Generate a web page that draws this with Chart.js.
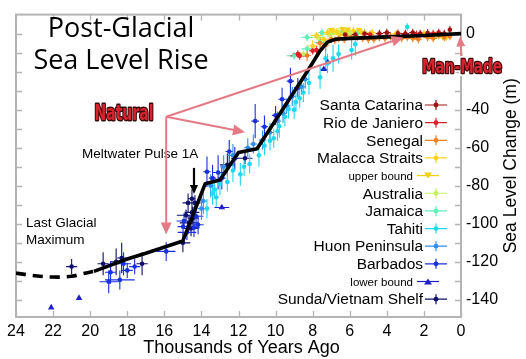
<!DOCTYPE html>
<html>
<head>
<meta charset="utf-8">
<script src="https://cdn.jsdelivr.net/npm/chart.js@4.4.1/dist/chart.umd.min.js"></script>
<style>
  html, body { margin: 0; padding: 0; background: #fff; }
  #wrap { width: 526px; height: 359px; }
</style>
</head>
<body>
<div id="wrap"><canvas id="c"></canvas></div>
<script>
// ---------------- data (kyr ago, metres, x error, y error) ----------------
const santaCatarina = [[5.7,-0.5,0.2,2],[4.4,0,0.2,2],[2.6,0.5,0.2,2],[0.6,2,0.1,2],[6.25,-0.5,0.2,2],[3.4,0.2,0.2,2],
                       [5.2,0,0.2,2],[4.0,0.5,0.2,2],[3.0,0,0.2,2],[2.2,0,0.2,2],[1.8,0.3,0.2,2],[1.2,0.5,0.2,2],[0.9,0,0.1,2]];
const rioDeJaniero = [[8.7,-11.7,0.5,2],[8.0,-9,0.2,2],[4.9,-0.5,0.2,2],[3.0,-0.5,0.2,2],[1.5,0,0.2,2],
                      [7.8,-8.6,0.3,2],[8.8,-10.7,0.3,2],[2.4,-0.5,0.2,2]];
const senegal = [[8.3,-11.5,0.2,3],[7.3,-6,0.2,3],[6.8,-3.5,0.2,2],[5.6,-2,0.2,2],[5.0,-3,0.2,2],[4.4,-2,0.2,2],
                 [3.8,-1.5,0.2,2],[3.2,-2.5,0.2,2],[2.6,-2.5,0.2,2],[1.8,-2,0.2,2],[1.2,-1,0.2,2],[6.2,-1,0.2,2],
                 [7.6,-5,0.2,3],[7.0,-3,0.2,2],[6.6,-2.5,0.2,2],[6.3,-3,0.2,2],[5.9,-2,0.2,2],[5.3,-2.5,0.2,2],
                 [4.7,-3,0.2,2],[4.1,-2.5,0.2,2],[3.5,-3,0.2,2],[2.9,-2,0.2,2],[2.3,-3,0.2,2],[1.5,-2.5,0.2,2],
                 [0.9,-2,0.2,2],[0.6,-1.5,0.1,2]];
const malacca = [[8.0,-6.5,0.3,3],[6.5,-0.5,0.4,2],[6.25,0.5,0.3,2],[5.8,1.5,0.2,2],[1.0,-1.5,0.2,2],[3.5,0,0.2,2],[7.4,-3,0.2,2],
                 [7.8,-1,0.3,2],[7.2,0.5,0.3,2],[6.9,1.5,0.3,2],[6.7,1,0.2,2],[5.4,1,0.2,2],[4.8,0.5,0.2,2],
                 [2.0,0,0.2,2],[1.3,-0.5,0.2,2],[0.8,-2,0.2,2]];
const upperBound = [[6.4,2.5,0,0],[6.1,2.2,0,0],[5.5,2,0,0],[7.0,2,0,0]];
const australia = [[8.5,-10.7,0.2,2],[7.1,-0.5,0.3,2],[6.6,1,0.3,2],[5.2,0.5,0.3,2],[7.7,-2,0.3,2],[6.9,0.5,0.2,2],[6.0,0.2,0.2,2]];
const jamaica = [[9.0,-11.6,0.4,2],[7.6,-4.6,0.3,2],[6.1,1,0.2,2],[8.3,-8,0.3,2],[8.3,-2,0.3,2],[7.5,0.5,0.2,2],[6.4,1,0.2,2],[5.6,0,0.2,2]];
const tahiti = [[13.7,-92,0.1,5],[13.4,-84,0.1,6],[13.3,-82,0.1,5],[13.0,-79,0.1,6],[12.6,-78,0.1,5],[11.9,-74,0.1,6],
                [11.4,-68.5,0.1,5],[10.9,-64,0.1,6],[10.6,-59,0.1,5],[10.3,-56.3,0.1,5],[9.9,-51.3,0.1,5],[9.8,-48.7,0.1,6],
                [9.5,-43.7,0.1,5],[9.3,-39.6,0.1,5],[8.7,-34,0.1,5],[8.5,-31,0.1,5],[7.6,-23,0.1,6],[7.2,-15.7,0.1,5],
                [6.9,-13,0.1,7],[5.7,-5.6,0.1,6],[2.9,3.5,0.1,2],[6.6,-10.7,0.1,5],[5.9,-8.6,0.1,5],[7.3,-13,0.1,6],
                [12.3,-72,0.1,6],[11.7,-70,0.1,5],[10.1,-55,0.1,5],[9.0,-40,0.1,5],[8.9,-36,0.1,5],[8.2,-26,0.1,6],[13.2,-86,0.1,5]];
const huon = [[13.5,-80,0.2,6],[12.3,-64,0.3,6],[11.5,-60,0.2,5],[10.3,-52,0.2,5],[9.9,-46,0.2,5],[9.6,-42,0.2,5],
              [9.4,-38,0.2,4],[8.6,-28,0.2,4],[14.0,-92,0.2,6],[13.9,-88,0.2,7],
              [12.8,-70,0.2,6],[11.2,-58,0.2,5],[10.7,-56,0.2,5],[9.1,-33,0.2,5],[8.4,-24,0.2,5]];
const barbados = [[18.9,-125.5,0.3,6],[19.0,-130.5,0.5,6],[18.4,-129.5,0.8,5],[18.2,-121,0.4,6],[18.0,-124.5,0.3,4],
                  [17.6,-122.5,0.3,4],[15.9,-114.5,0.5,5],[14.94,-98.5,0.4,4],[14.18,-100.5,0.3,5],[14.78,-104.5,0.5,4],
                  [14.40,-102,0.3,5],[14.99,-101.5,0.3,4],[14.29,-96,0.4,6],[13.7,-72.6,0.2,8],[13.1,-73,0.3,9],
                  [12.2,-65.6,0.2,6],[11.1,-46,0.2,9],[9.65,-34.5,0.2,6],[9.2,-25,0.2,7],[8.8,-28.4,0.2,5],[12.9,-76,0.2,6],
                  [10.6,-49,0.2,6],[10.0,-43,0.2,5],[12.5,-62,0.2,6],[13.4,-76,0.2,7]];
const lowerBound = [[22.1,-144,0,0],[20.6,-139,0,0],[12.9,-91.4,0.4,0],[7.4,-18.7,0.2,0],[7.2,-15,0,0]];
const sunda = [[21.0,-122.5,0.3,4],[19.3,-121,0.3,6],[18.6,-120,0.3,7],[18.3,-118,0.25,8],[17.2,-121,0.3,6],
               [15.0,-110,0.4,5],[14.72,-89,0.3,5],[14.51,-94,0.4,6],[14.83,-95.5,0.5,3],[14.67,-99.5,0.5,4],
               [14.45,-97,0.3,6],[14.56,-102.5,0.4,4],[14.35,-89,0.3,4],[14.51,-86.8,0.2,5],[12.6,-69,0.4,6],[11.65,-65.5,0.4,3]];

// fitted curve
const curveKyr = [19.8, 18.0, 17.0, 15.0, 13.8, 13.0, 12.0, 11.0, 8.3, 7.6, 7.2, 6.8, 6.0, 4.0, 2.0, 0];
const curveM   = [-125, -118.5, -115.5, -109, -79, -77, -62.5, -60.5, -20, -9, -4.5, -3, -2.5, -1.7, -1, 0];
const lgmKyr = [24, 23, 22, 21, 20.4, 19.8];
const lgmM   = [-125.9, -127.3, -128, -127.6, -126.2, -125];

const xTickLabels = [0, 2, 4, 6, 8, 10, 12, 14, 16, 18, 20, 22, 24];
const yTickLabels = [0, -40, -60, -80, -100, -120, -140];
const yMinorTicks = [0, -10, -20, -30, -40, -50, -60, -70, -80, -90, -100, -110, -120, -130, -140];

const series = [
  { label: 'Santa Catarina', data: santaCatarina, color: '#a01010', kind: 'cross' },
  { label: 'Rio de Janiero', data: rioDeJaniero, color: '#e0202a', kind: 'cross' },
  { label: 'Senegal', data: senegal, color: '#f08020', kind: 'cross' },
  { label: 'Malacca Straits', data: malacca, color: '#ffd21e', kind: 'cross' },
  { label: 'upper bound', data: upperBound, color: '#f0d010', kind: 'down', small: true },
  { label: 'Australia', data: australia, color: '#c4f060', kind: 'cross' },
  { label: 'Jamaica', data: jamaica, color: '#60f0b8', kind: 'cross' },
  { label: 'Tahiti', data: tahiti, color: '#20d8f0', kind: 'cross' },
  { label: 'Huon Peninsula', data: huon, color: '#3090f0', kind: 'cross' },
  { label: 'Barbados', data: barbados, color: '#1a30e0', kind: 'cross' },
  { label: 'lower bound', data: lowerBound, color: '#2020c8', kind: 'up', small: true },
  { label: 'Sunda/Vietnam Shelf', data: sunda, color: '#10106e', kind: 'cross' }
];

const FONT = '"Liberation Sans", Arial, sans-serif';
const PINK = '#e47a86';

// ---------------- datasets ----------------
// drawn back to front: the later (top of the list) series end up on top
const datasets = series.map((s, i) => ({
  label: s.label,
  data: s.data.map(p => ({ x: p[0], y: p[1], xe: p[2], ye: p[3] })),
  showLine: false,
  pointRadius: s.kind === 'cross' ? 2.3 : 3.8,
  pointStyle: s.kind === 'cross' ? 'circle' : 'triangle',
  rotation: s.kind === 'down' ? 180 : 0,
  backgroundColor: s.color,
  borderColor: s.color,
  borderWidth: 0,
  order: 2 + i
}));

datasets.push({
  label: 'curve',
  data: curveKyr.map((k, i) => ({ x: k, y: curveM[i] })),
  showLine: true, pointRadius: 0, borderColor: '#000', borderWidth: 3.6,
  tension: 0, borderJoinStyle: 'round', order: 0
});
datasets.push({
  label: 'lgm',
  data: lgmKyr.map((k, i) => ({ x: k, y: lgmM[i] })),
  showLine: true, pointRadius: 0, borderColor: '#000', borderWidth: 3.6,
  borderDash: [10, 7], tension: 0.4, order: 0
});

// ---------------- plugins ----------------
const framePlugin = {
  id: 'frame',
  beforeDatasetsDraw(chart) {
    const { ctx, chartArea: a, scales: { x, y } } = chart;
    ctx.save();
    // error bars
    chart.data.datasets.slice().reverse().forEach(ds => {
      if (ds.label === 'curve' || ds.label === 'lgm') return;
      ctx.strokeStyle = ds.borderColor;
      ctx.lineWidth = 1.1;
      ctx.beginPath();
      ds.data.forEach(p => {
        const px = x.getPixelForValue(p.x), py = y.getPixelForValue(p.y);
        if (p.xe) {
          ctx.moveTo(x.getPixelForValue(p.x - p.xe), py);
          ctx.lineTo(x.getPixelForValue(p.x + p.xe), py);
        }
        if (p.ye) {
          ctx.moveTo(px, y.getPixelForValue(p.y - p.ye));
          ctx.lineTo(px, y.getPixelForValue(p.y + p.ye));
        }
      });
      ctx.stroke();
    });
    // frame and inward ticks
    ctx.strokeStyle = '#b4b4b4';
    ctx.lineWidth = 2;
    ctx.strokeRect(a.left, a.top, a.right - a.left, a.bottom - a.top);
    ctx.lineWidth = 1.3;
    ctx.beginPath();
    xTickLabels.forEach(v => {
      const px = Math.round(x.getPixelForValue(v)) + 0.5;
      ctx.moveTo(px, a.bottom); ctx.lineTo(px, a.bottom - 6);
      ctx.moveTo(px, a.top); ctx.lineTo(px, a.top + 6);
    });
    yMinorTicks.forEach(v => {
      const py = Math.round(y.getPixelForValue(v)) + 0.5;
      ctx.moveTo(a.left, py); ctx.lineTo(a.left + 6, py);
      ctx.moveTo(a.right, py); ctx.lineTo(a.right - 6, py);
    });
    ctx.stroke();
    ctx.restore();
  }
};

function arrow(ctx, x1, y1, x2, y2, color, w, head) {
  const ang = Math.atan2(y2 - y1, x2 - x1);
  ctx.strokeStyle = color; ctx.fillStyle = color; ctx.lineWidth = w;
  ctx.beginPath();
  ctx.moveTo(x1, y1);
  ctx.lineTo(x2 - Math.cos(ang) * head * 0.8, y2 - Math.sin(ang) * head * 0.8);
  ctx.stroke();
  ctx.beginPath();
  ctx.moveTo(x2, y2);
  ctx.lineTo(x2 - head * Math.cos(ang) + head * 0.45 * Math.sin(ang), y2 - head * Math.sin(ang) - head * 0.45 * Math.cos(ang));
  ctx.lineTo(x2 - head * Math.cos(ang) - head * 0.45 * Math.sin(ang), y2 - head * Math.sin(ang) + head * 0.45 * Math.cos(ang));
  ctx.closePath();
  ctx.fill();
}

function badge(ctx, text, cx, cy, w, h) {
  ctx.save();
  ctx.font = 'bold 20px "Liberation Sans Narrow", "DejaVu Sans Condensed", ' + FONT;
  const m = ctx.measureText(text);
  const asc = m.actualBoundingBoxAscent;
  ctx.translate(cx, cy);
  ctx.scale(w / m.width, h / asc);
  ctx.textAlign = 'center';
  ctx.textBaseline = 'alphabetic';
  ctx.lineJoin = 'round';
  ctx.strokeStyle = 'rgba(255,255,255,0.95)'; ctx.lineWidth = 6;
  ctx.strokeText(text, 0, asc / 2);
  ctx.strokeStyle = '#3c0a0a'; ctx.lineWidth = 2.6;
  ctx.strokeText(text, 0, asc / 2);
  ctx.fillStyle = '#d8222e';
  ctx.fillText(text, 0, asc / 2);
  ctx.restore();
}

const annotationPlugin = {
  id: 'annotations',
  afterDraw(chart) {
    const { ctx, chartArea: a, scales: { x, y } } = chart;
    const X = v => x.getPixelForValue(v), Y = v => y.getPixelForValue(v);
    ctx.save();
    // title
    ctx.fillStyle = '#000';
    ctx.textAlign = 'center';
    ctx.textBaseline = 'alphabetic';
    ctx.font = '27px "Open Sans", ' + FONT;
    ctx.fillText('Post-Glacial', 121, 37);
    ctx.fillText('Sea Level Rise', 121, 69);

    // axis titles
    ctx.font = '18px ' + FONT;
    ctx.textBaseline = 'middle';
    ctx.fillText('Thousands of Years Ago', (a.left + a.right) / 2 + 3, 348);
    ctx.save();
    ctx.translate(511, (a.top + a.bottom) / 2);
    ctx.rotate(-Math.PI / 2);
    ctx.font = '17.5px ' + FONT;
    ctx.fillText('Sea Level Change (m)', 0, 0);
    ctx.restore();

    // text notes
    ctx.textAlign = 'left';
    ctx.textBaseline = 'alphabetic';
    ctx.font = '13.5px ' + FONT;
    ctx.fillText('Meltwater Pulse 1A', 82, 158);
    ctx.fillText('Last Glacial', 26, 227);
    ctx.fillText('Maximum', 26, 244);

    // meltwater arrow
    arrow(ctx, X(14.4), Y(-70.6), X(14.4), Y(-84.3), '#000', 2.2, 9);

    // natural arrows
    const ox = X(15.9), oy = Y(-43.7);
    arrow(ctx, ox, oy, X(3.1), Y(-2.0), PINK, 2, 12);
    arrow(ctx, ox, oy, X(11.65), Y(-51.8), PINK, 2, 12);
    arrow(ctx, ox, oy, X(15.9), Y(-105.6), PINK, 2, 12);
    // man-made arrow
    arrow(ctx, X(-0.05), Y(-14.7), X(0.05), Y(-1.5), PINK, 2, 10);

    badge(ctx, 'Natural', 124, 112, 59, 16);
    badge(ctx, 'Man-Made', 462, 65, 80, 15);

    // legend
    series.forEach((s, i) => {
      const ry = 105 + i * 17.65;
      const tr = s.small ? 413 : 423;
      const mx = s.small ? 428 : 436;
      ctx.fillStyle = '#000';
      ctx.textAlign = 'right';
      ctx.textBaseline = 'middle';
      ctx.font = (s.small ? '11.5px ' : '15.5px ') + FONT;
      ctx.fillText(s.label, tr, ry + 1);
      ctx.strokeStyle = s.color; ctx.fillStyle = s.color; ctx.lineWidth = 1.2;
      ctx.beginPath();
      ctx.moveTo(mx - 11, ry); ctx.lineTo(mx + 11, ry);
      if (s.kind === 'cross') { ctx.moveTo(mx, ry - 5); ctx.lineTo(mx, ry + 5); }
      ctx.stroke();
      ctx.beginPath();
      if (s.kind === 'cross') {
        ctx.arc(mx, ry, 2.4, 0, Math.PI * 2);
      } else if (s.kind === 'down') {
        ctx.moveTo(mx - 4, ry - 3); ctx.lineTo(mx + 4, ry - 3); ctx.lineTo(mx, ry + 3);
      } else {
        ctx.moveTo(mx - 4, ry + 3); ctx.lineTo(mx + 4, ry + 3); ctx.lineTo(mx, ry - 3);
      }
      ctx.fill();
    });
    ctx.restore();
  }
};

// ---------------- chart ----------------
new Chart(document.getElementById('c'), {
  type: 'scatter',
  data: { datasets },
  options: {
    responsive: true,
    maintainAspectRatio: false,
    animation: false,
    devicePixelRatio: 1,
    layout: { padding: { left: 16, top: 4 } },
    plugins: { legend: { display: false }, tooltip: { enabled: false } },
    scales: {
      x: {
        type: 'linear', reverse: true, min: 0, max: 24, position: 'bottom',
        grid: { display: false, drawTicks: false }, border: { display: false },
        afterBuildTicks: s => { s.ticks = xTickLabels.map(v => ({ value: v })); },
        afterFit: s => { s.height = 42; },
        ticks: { padding: 5, color: '#000', font: { size: 16, family: FONT }, maxRotation: 0, autoSkip: false }
      },
      y: {
        type: 'linear', min: -149, max: 10, position: 'right',
        grid: { display: false, drawTicks: false }, border: { display: false },
        afterBuildTicks: s => { s.ticks = yTickLabels.map(v => ({ value: v })); },
        afterFit: s => { s.width = 65; },
        ticks: { padding: 5, color: '#000', font: { size: 16, family: FONT }, autoSkip: false }
      }
    }
  },
  plugins: [framePlugin, annotationPlugin]
});
</script>
</body>
</html>
